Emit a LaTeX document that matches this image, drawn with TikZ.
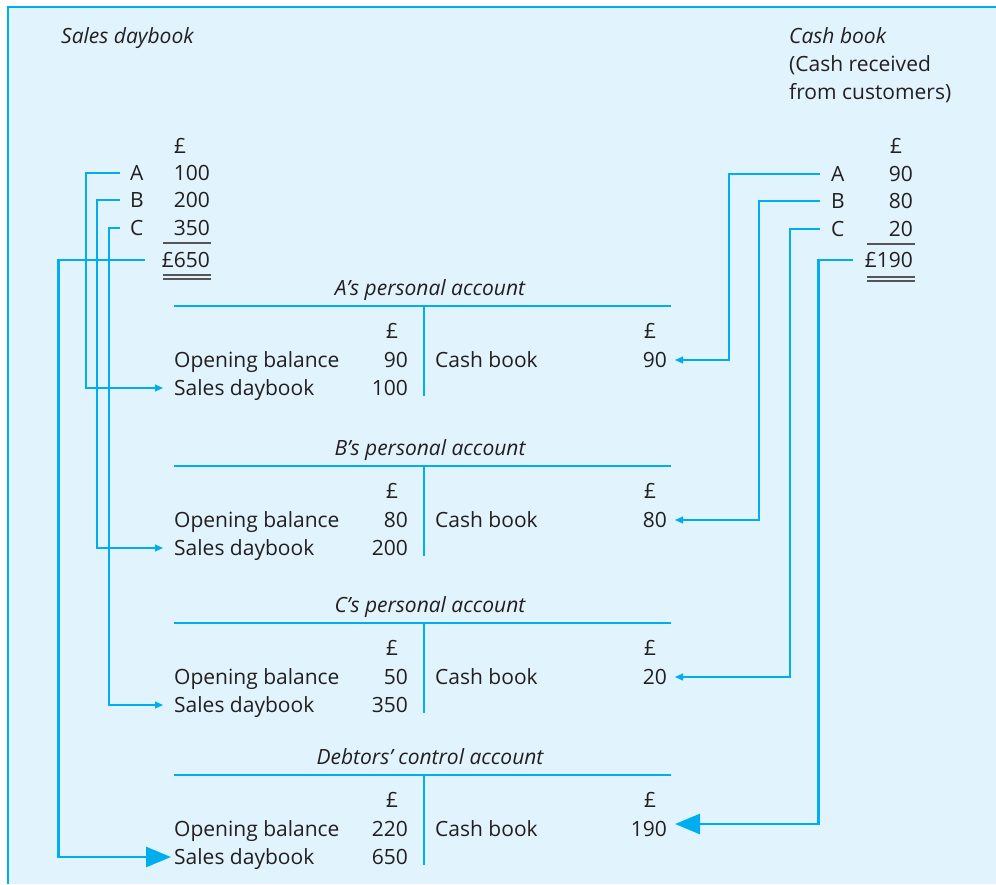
\documentclass[tikz,border=0pt]{standalone}
\usepackage{fontspec}
\setmainfont{Open Sans}
\usetikzlibrary{calc}
\usetikzlibrary{arrows.meta}
\definecolor{ink}{HTML}{231F20}
\definecolor{cyanline}{HTML}{00AEEF}
\definecolor{panel}{HTML}{E1F3FC}
\definecolor{rulegray}{HTML}{555555}

\begin{document}
\begin{tikzpicture} [x=1pt, y=-1pt, font=\fontsize{21}{25}\selectfont,
  txt/.style={inner sep=0, text=ink, text height=15pt, text depth=1pt},
  ttl/.style={txt, font=\fontsize{21}{25}\selectfont\itshape},
  link/.style={cyanline, line width=1.1pt, -{Triangle[length=8pt,width=7pt]}},
  biglink/.style={cyanline, line width=2.8pt, -{Triangle[length=25pt,width=20pt]}},
  acline/.style={cyanline, line width=1.1pt},
  sumline/.style={rulegray, line width=1.2pt}]
\useasboundingbox (0,0) rectangle (996,884);
\fill[panel] (8,7) rectangle (996,884);
\draw[cyanline, line width=1.3pt] (8,884) -- (8,7) -- (996,7);

\node[ttl, anchor=base west] (sdhead) at (61,43) {Sales daybook};
\node[ttl, anchor=base west] (cbhead) at (789,43) {Cash book};
\node[txt, anchor=base west] (cbsub1) at (789,71) {(Cash received};
\node[txt, anchor=base west] (cbsub2) at (789,99) {from customers)};

\node[txt, anchor=base west] (spound) at (174,153) {£};
\node[txt, anchor=base west] (cpound) at (890,153) {£};
\foreach \lbl/\amt/\yy in {A/100/180, B/200/207, C/350/235} {
  \node[txt, anchor=base west] (s\lbl) at (130,\yy) {\lbl};
  \node[txt, anchor=base east] (sn\lbl) at (210,\yy) {\amt};
}
\foreach \lbl/\amt/\yy in {A/90/181, B/80/208, C/20/236} {
  \node[txt, anchor=base west] (c\lbl) at (831,\yy) {\lbl};
  \node[txt, anchor=base east] (cn\lbl) at (913,\yy) {\amt};
}
\node[txt, anchor=base east] (tL) at (210,267) {£650};
\node[txt, anchor=base east] (tR) at (913,267) {£190};
\draw[sumline] (163,243) -- (211,243) (163,275) -- (211,275) (163,279) -- (211,279);
\draw[sumline] (867,244) -- (915,244) (867,277) -- (915,277) (867,281) -- (915,281);

\foreach \head/\L/\ob/\sd/\cb [count=\i] in {A’s personal account/306/90/100/90, B’s personal account/466/80/200/80, C’s personal account/623/50/350/20, Debtors’ control account/775/220/650/190} {
  \node[ttl, anchor=base] (head\i) at (430,\L-11) {\head};
  \draw[acline] (174,\L) -- (671,\L) (424,\L) -- (424,\L+90);
  \node[txt, anchor=base west] (lp\i) at (386,\L+32) {£};
  \node[txt, anchor=base west] (rp\i) at (644,\L+32) {£};
  \node[txt, anchor=base west] (ob\i) at (174,\L+61) {Opening balance};
  \node[txt, anchor=base east] (obn\i) at (408,\L+61) {\ob};
  \node[txt, anchor=base west] (cb\i) at (435,\L+61) {Cash book};
  \node[txt, anchor=base east] (cr\i) at (667,\L+61) {\cb};
  \node[txt, anchor=base west] (sd\i) at (174,\L+89) {Sales daybook};
  \node[txt, anchor=base east] (sdn\i) at (408,\L+89) {\sd};
}

\foreach \lbl/\dx/\i in {A/34/1, B/23/2, C/11/3} \draw[link] ([xshift=-10pt]s\lbl.west) -- ++(-\dx,0) |- ([xshift=-11pt]sd\i.west);
\foreach \lbl/\dx/\i in {A/91/1, B/61/2, C/30/3} \draw[link] ([xshift=-11pt]c\lbl.west) -- ++(-\dx,0) |- ([xshift=8pt]cr\i.east);
\draw[biglink] ([xshift=-17pt]tL.west) -- ++(-86,0) |- ([xshift=-3pt]sd4.west);
\draw[biglink] ([xshift=-12pt]tR.west) -- ++(-34,0) |- ([xshift=8pt,yshift=5pt]cr4.east);

\end{tikzpicture}
\end{document}
